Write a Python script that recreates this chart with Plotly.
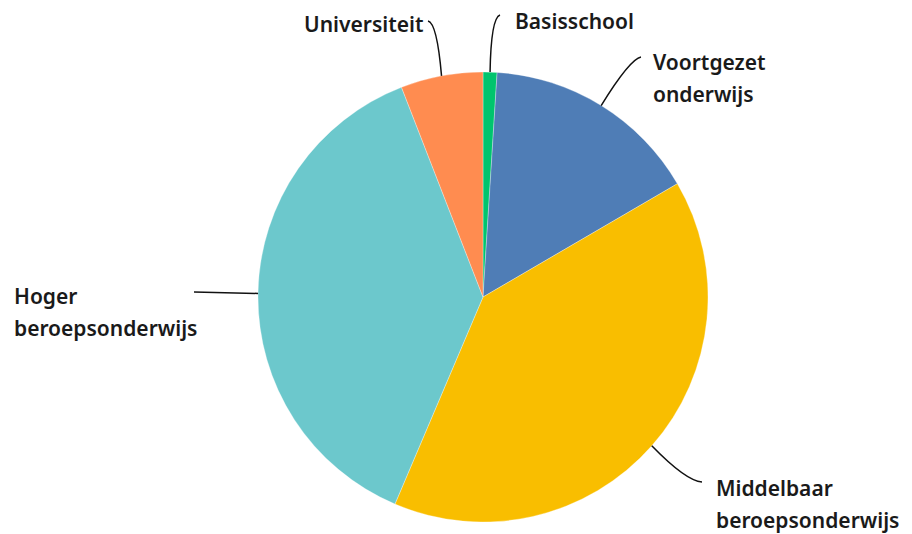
import math
import plotly.graph_objects as go

# ---- data ----
categories = ["Basisschool", "Voortgezet onderwijs", "Middelbaar beroepsonderwijs",
              "Hoger beroepsonderwijs", "Universiteit"]
values = [1.0, 15.6, 39.8, 37.7, 5.9]
label_lines = [["Basisschool"], ["Voortgezet", "onderwijs"], ["Middelbaar", "beroepsonderwijs"],
               ["Hoger", "beroepsonderwijs"], ["Universiteit"]]

# ---- styling / layout ----
colors = ["#00c46e", "#4f7db6", "#f9be00", "#6cc8cc", "#ff8c50"]
OFF = 8                             # page body margin offset
W, H = 912 - OFF, 534 - OFF
CX, CY, R = 483, 297, 225          # pie centre / radius in window pixels
LINE_H = 32                         # spacing between label lines
# label placement: (text x, first-line centre y, xanchor, leader end x, end y, ctrl x, ctrl y)
label_pos = [
    (513, 21, "left", 500, 15, 491, 18),
    (651, 62, "left", 641, 57, 630, 59),
    (714, 488, "left", 702, 482, 686, 481),
    (12, 296, "left", 194, 292, None, None),
    (426, 24, "right", 428, 21, 437, 23),
]
FONT = dict(family="Noto Sans", size=21, color="#1a1a1a", weight=600)

def px(x):
    return (x - OFF) / W

def py(y):
    return 1 - (y - OFF) / H

fig = go.Figure(go.Pie(
    labels=categories, values=values, sort=False, direction="clockwise", rotation=0,
    marker=dict(colors=colors, line=dict(color="rgba(255,255,255,0.6)", width=0.5)),
    textinfo="none", hoverinfo="label+percent", showlegend=False,
    domain=dict(x=[px(CX - R), px(CX + R)], y=[py(CY + R), py(CY - R)]),
))

annotations = []
shapes = []
total = sum(values)
cum = 0.0
for i, v in enumerate(values):
    mid = (cum + v / 2) / total * 2 * math.pi
    cum += v
    sx = CX + R * math.sin(mid)
    sy = CY - R * math.cos(mid)
    tx, ty, anchor, ex, ey, cx_, cy_ = label_pos[i]
    if cx_ is None:
        path = f"M {px(sx)} {py(sy)} L {px(ex)} {py(ey)}"
    else:
        path = f"M {px(sx)} {py(sy)} Q {px(cx_)} {py(cy_)} {px(ex)} {py(ey)}"
    shapes.append(dict(type="path", path=path, xref="paper", yref="paper",
                       line=dict(color="#111111", width=1.5)))
    for j, line in enumerate(label_lines[i]):
        annotations.append(dict(text=line, x=px(tx), y=py(ty + j * LINE_H),
                                xref="paper", yref="paper", xanchor=anchor, yanchor="middle",
                                showarrow=False, font=FONT))

fig.update_layout(
    width=W, height=H, margin=dict(l=0, r=0, t=0, b=0),
    paper_bgcolor="white", plot_bgcolor="white",
    annotations=annotations, shapes=shapes,
)
fig.write_html("out.html")
